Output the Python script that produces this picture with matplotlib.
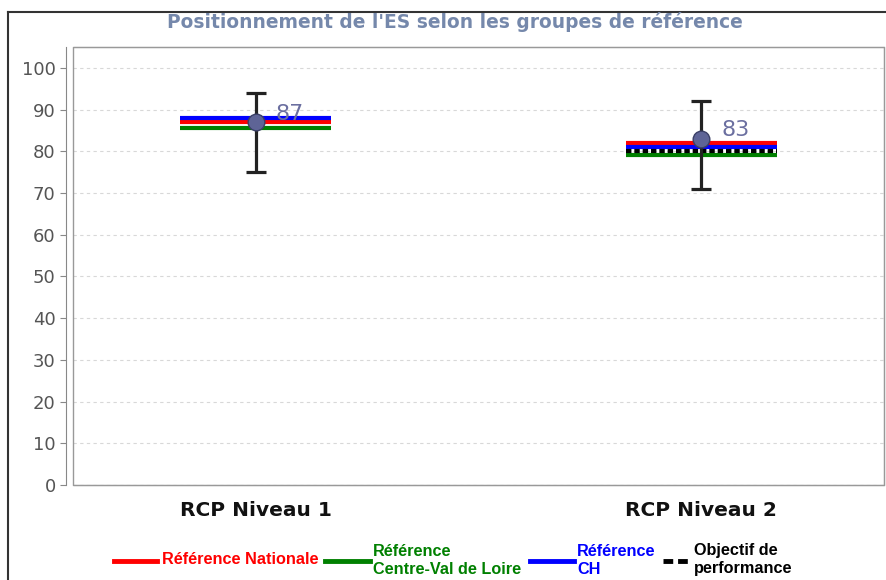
import matplotlib.pyplot as plt
from matplotlib.lines import Line2D
from matplotlib.patches import Rectangle

# data
categories = ["RCP Niveau 1", "RCP Niveau 2"]
es_values = [87, 83]
err_low = [75, 71]
err_high = [94, 92]
ref_nationale = [87, 82]
ref_region = [85.5, 79]
ref_ch = [88, 81]
objectif = [None, 80]

fig = plt.figure(figsize=(8.87, 5.80), dpi=100)
ax = fig.add_axes([73 / 887, 1 - 485 / 580, (884 - 73) / 887, (485 - 47) / 580])

x = list(range(len(categories)))
hw = 0.17

# reference lines
for i in x:
    ax.hlines(ref_region[i], i - hw, i + hw, color="#008000", lw=3, zorder=3)
    ax.hlines(ref_nationale[i], i - hw, i + hw, color="#ff0000", lw=3, zorder=3)
    ax.hlines(ref_ch[i], i - hw, i + hw, color="#0000ff", lw=3, zorder=3)
    if objectif[i] is not None:
        ax.hlines(objectif[i], i - hw, i + hw, color="black", lw=3,
                  linestyles=(0, (1.3, 0.7)), zorder=4)

# error bars + point
for i in x:
    ax.vlines(i, err_low[i], err_high[i], color="#222222", lw=2.3, zorder=5)
    ax.hlines([err_low[i], err_high[i]], i - 0.022, i + 0.022, color="#222222", lw=2.3, zorder=5)
    ax.plot(i, es_values[i], "o", ms=12, mfc="#5e6496", mec="#3a3f66", mew=1, zorder=6)
    ax.text(i + 0.045, es_values[i] + 2, str(es_values[i]), color="#6b6fa0",
            fontsize=16, va="center", ha="left", zorder=7)

ax.set_xlim(-0.41, 1.41)
ax.set_ylim(0, 105)
ax.set_yticks(range(0, 101, 10))
ax.set_xticks([])
for i, c in enumerate(categories):
    ax.text(i, -6, c, ha="center", va="center", fontsize=14.5, fontweight="bold", color="#111111")

ax.grid(axis="y", color="#d8d8d8", ls=(0, (3, 3)), lw=0.8)
ax.set_axisbelow(True)
for s in ["top", "right", "bottom"]:
    ax.spines[s].set_color("#999999")
ax.spines["left"].set_position(("outward", 5))
ax.spines["left"].set_color("#888888")
ax.add_patch(Rectangle((0, 0), 1, 1, transform=ax.transAxes, fill=False,
                       ec="#999999", lw=1, clip_on=False, zorder=1))
ax.tick_params(axis="y", colors="#888888", labelcolor="#555555", labelsize=13, length=4, direction="out")

fig.text(455 / 887, 1 - 22 / 580, "Positionnement de l'ES selon les groupes de référence",
         ha="center", va="center", fontsize=13.4, fontweight="bold", color="#7588ab")

# outer frame
fig.add_artist(Line2D([8 / 887, 8 / 887], [0, 1 - 12 / 580], color="#333333", lw=1.5))
fig.add_artist(Line2D([8 / 887, 1], [1 - 12 / 580, 1 - 12 / 580], color="#333333", lw=1.5))

# legend
def fx(px):
    return px / 887


def fy(py):
    return 1 - py / 580


leg = [
    (114, 157, "#ff0000", "-", "Référence Nationale", 162),
    (325, 370, "#008000", "-", "Référence\nCentre-Val de Loire", 373),
    (530, 574, "#0000ff", "-", "Référence\nCH", 577),
    (663, 690, "black", (0, (2, 1)), "Objectif de\nperformance", 694),
]
for x0, x1, col, ls, lab, tx in leg:
    fig.add_artist(Line2D([fx(x0), fx(x1)], [fy(561), fy(561)], color=col, lw=3.5, ls=ls))
    fig.text(fx(tx), fy(560), lab, ha="left", va="center", fontsize=11.7,
             fontweight="bold", color=col, family="Liberation Sans", linespacing=1.25)

fig.savefig("out.png", dpi=100)
